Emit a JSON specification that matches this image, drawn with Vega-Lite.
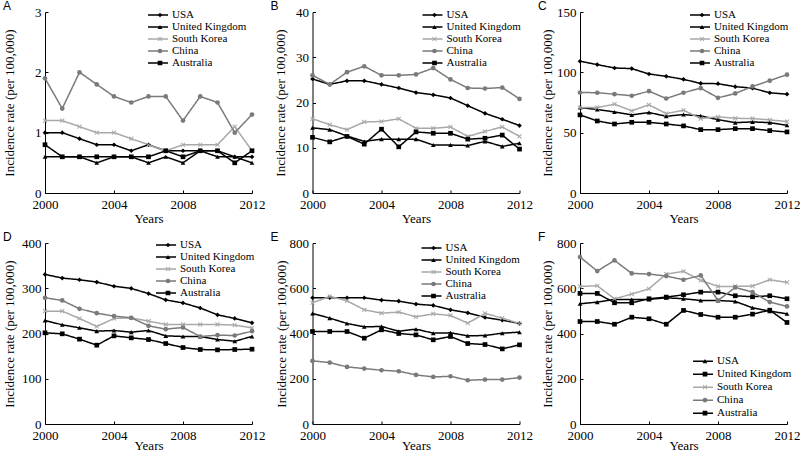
{
"$schema": "https://vega.github.io/schema/vega-lite/v6.json",
"padding": {"left": 3, "top": 0, "right": 0, "bottom": 0},
"datasets": {
"A": [
{"year":2000,"country":"USA","rate":1.0},{"year":2001,"country":"USA","rate":1.0},{"year":2002,"country":"USA","rate":0.9},{"year":2003,"country":"USA","rate":0.8},{"year":2004,"country":"USA","rate":0.8},{"year":2005,"country":"USA","rate":0.7},{"year":2006,"country":"USA","rate":0.8},{"year":2007,"country":"USA","rate":0.7},{"year":2008,"country":"USA","rate":0.7},{"year":2009,"country":"USA","rate":0.7},{"year":2010,"country":"USA","rate":0.7},{"year":2011,"country":"USA","rate":0.6},{"year":2012,"country":"USA","rate":0.6},
{"year":2000,"country":"United Kingdom","rate":0.6},{"year":2001,"country":"United Kingdom","rate":0.6},{"year":2002,"country":"United Kingdom","rate":0.6},{"year":2003,"country":"United Kingdom","rate":0.5},{"year":2004,"country":"United Kingdom","rate":0.6},{"year":2005,"country":"United Kingdom","rate":0.6},{"year":2006,"country":"United Kingdom","rate":0.5},{"year":2007,"country":"United Kingdom","rate":0.6},{"year":2008,"country":"United Kingdom","rate":0.5},{"year":2009,"country":"United Kingdom","rate":0.7},{"year":2010,"country":"United Kingdom","rate":0.6},{"year":2011,"country":"United Kingdom","rate":0.6},{"year":2012,"country":"United Kingdom","rate":0.5},
{"year":2000,"country":"South Korea","rate":1.2},{"year":2001,"country":"South Korea","rate":1.2},{"year":2002,"country":"South Korea","rate":1.1},{"year":2003,"country":"South Korea","rate":1.0},{"year":2004,"country":"South Korea","rate":1.0},{"year":2005,"country":"South Korea","rate":0.9},{"year":2006,"country":"South Korea","rate":0.8},{"year":2007,"country":"South Korea","rate":0.7},{"year":2008,"country":"South Korea","rate":0.8},{"year":2009,"country":"South Korea","rate":0.8},{"year":2010,"country":"South Korea","rate":0.8},{"year":2011,"country":"South Korea","rate":1.1},{"year":2012,"country":"South Korea","rate":0.7},
{"year":2000,"country":"China","rate":1.9},{"year":2001,"country":"China","rate":1.4},{"year":2002,"country":"China","rate":2.0},{"year":2003,"country":"China","rate":1.8},{"year":2004,"country":"China","rate":1.6},{"year":2005,"country":"China","rate":1.5},{"year":2006,"country":"China","rate":1.6},{"year":2007,"country":"China","rate":1.6},{"year":2008,"country":"China","rate":1.2},{"year":2009,"country":"China","rate":1.6},{"year":2010,"country":"China","rate":1.5},{"year":2011,"country":"China","rate":1.0},{"year":2012,"country":"China","rate":1.3},
{"year":2000,"country":"Australia","rate":0.8},{"year":2001,"country":"Australia","rate":0.6},{"year":2002,"country":"Australia","rate":0.6},{"year":2003,"country":"Australia","rate":0.6},{"year":2004,"country":"Australia","rate":0.6},{"year":2005,"country":"Australia","rate":0.6},{"year":2006,"country":"Australia","rate":0.6},{"year":2007,"country":"Australia","rate":0.7},{"year":2008,"country":"Australia","rate":0.6},{"year":2009,"country":"Australia","rate":0.7},{"year":2010,"country":"Australia","rate":0.7},{"year":2011,"country":"Australia","rate":0.5},{"year":2012,"country":"Australia","rate":0.7}
],
"B": [
{"year":2000,"country":"USA","rate":25.2},{"year":2001,"country":"USA","rate":24.0},{"year":2002,"country":"USA","rate":24.8},{"year":2003,"country":"USA","rate":24.8},{"year":2004,"country":"USA","rate":24.0},{"year":2005,"country":"USA","rate":23.2},{"year":2006,"country":"USA","rate":22.2},{"year":2007,"country":"USA","rate":21.7},{"year":2008,"country":"USA","rate":21.0},{"year":2009,"country":"USA","rate":19.3},{"year":2010,"country":"USA","rate":17.6},{"year":2011,"country":"USA","rate":16.3},{"year":2012,"country":"USA","rate":14.9},
{"year":2000,"country":"United Kingdom","rate":14.4},{"year":2001,"country":"United Kingdom","rate":14.0},{"year":2002,"country":"United Kingdom","rate":12.6},{"year":2003,"country":"United Kingdom","rate":11.4},{"year":2004,"country":"United Kingdom","rate":11.9},{"year":2005,"country":"United Kingdom","rate":11.9},{"year":2006,"country":"United Kingdom","rate":11.9},{"year":2007,"country":"United Kingdom","rate":10.6},{"year":2008,"country":"United Kingdom","rate":10.6},{"year":2009,"country":"United Kingdom","rate":10.5},{"year":2010,"country":"United Kingdom","rate":11.4},{"year":2011,"country":"United Kingdom","rate":10.3},{"year":2012,"country":"United Kingdom","rate":11.0},
{"year":2000,"country":"South Korea","rate":16.4},{"year":2001,"country":"South Korea","rate":15.1},{"year":2002,"country":"South Korea","rate":14.0},{"year":2003,"country":"South Korea","rate":15.7},{"year":2004,"country":"South Korea","rate":15.8},{"year":2005,"country":"South Korea","rate":16.4},{"year":2006,"country":"South Korea","rate":14.3},{"year":2007,"country":"South Korea","rate":14.3},{"year":2008,"country":"South Korea","rate":14.6},{"year":2009,"country":"South Korea","rate":12.5},{"year":2010,"country":"South Korea","rate":13.6},{"year":2011,"country":"South Korea","rate":14.6},{"year":2012,"country":"South Korea","rate":12.5},
{"year":2000,"country":"China","rate":26.0},{"year":2001,"country":"China","rate":24.0},{"year":2002,"country":"China","rate":26.7},{"year":2003,"country":"China","rate":28.0},{"year":2004,"country":"China","rate":26.0},{"year":2005,"country":"China","rate":26.0},{"year":2006,"country":"China","rate":26.2},{"year":2007,"country":"China","rate":27.6},{"year":2008,"country":"China","rate":25.1},{"year":2009,"country":"China","rate":23.2},{"year":2010,"country":"China","rate":23.1},{"year":2011,"country":"China","rate":23.3},{"year":2012,"country":"China","rate":20.8},
{"year":2000,"country":"Australia","rate":12.3},{"year":2001,"country":"Australia","rate":11.3},{"year":2002,"country":"Australia","rate":12.5},{"year":2003,"country":"Australia","rate":10.8},{"year":2004,"country":"Australia","rate":14.1},{"year":2005,"country":"Australia","rate":10.2},{"year":2006,"country":"Australia","rate":13.5},{"year":2007,"country":"Australia","rate":13.2},{"year":2008,"country":"Australia","rate":13.2},{"year":2009,"country":"Australia","rate":11.9},{"year":2010,"country":"Australia","rate":12.1},{"year":2011,"country":"Australia","rate":12.8},{"year":2012,"country":"Australia","rate":9.7}
],
"C": [
{"year":2000,"country":"USA","rate":109.2},{"year":2001,"country":"USA","rate":106.4},{"year":2002,"country":"USA","rate":103.6},{"year":2003,"country":"USA","rate":103.1},{"year":2004,"country":"USA","rate":98.6},{"year":2005,"country":"USA","rate":96.7},{"year":2006,"country":"USA","rate":94.2},{"year":2007,"country":"USA","rate":90.8},{"year":2008,"country":"USA","rate":90.6},{"year":2009,"country":"USA","rate":88.1},{"year":2010,"country":"USA","rate":86.9},{"year":2011,"country":"USA","rate":83.1},{"year":2012,"country":"USA","rate":81.9},
{"year":2000,"country":"United Kingdom","rate":70.8},{"year":2001,"country":"United Kingdom","rate":69.2},{"year":2002,"country":"United Kingdom","rate":67.2},{"year":2003,"country":"United Kingdom","rate":64.7},{"year":2004,"country":"United Kingdom","rate":66.7},{"year":2005,"country":"United Kingdom","rate":63.6},{"year":2006,"country":"United Kingdom","rate":65.0},{"year":2007,"country":"United Kingdom","rate":63.9},{"year":2008,"country":"United Kingdom","rate":60.8},{"year":2009,"country":"United Kingdom","rate":58.3},{"year":2010,"country":"United Kingdom","rate":58.9},{"year":2011,"country":"United Kingdom","rate":58.3},{"year":2012,"country":"United Kingdom","rate":56.1},
{"year":2000,"country":"South Korea","rate":70.8},{"year":2001,"country":"South Korea","rate":70.8},{"year":2002,"country":"South Korea","rate":73.6},{"year":2003,"country":"South Korea","rate":68.1},{"year":2004,"country":"South Korea","rate":73.1},{"year":2005,"country":"South Korea","rate":65.8},{"year":2006,"country":"South Korea","rate":68.6},{"year":2007,"country":"South Korea","rate":61.7},{"year":2008,"country":"South Korea","rate":63.1},{"year":2009,"country":"South Korea","rate":61.9},{"year":2010,"country":"South Korea","rate":61.7},{"year":2011,"country":"South Korea","rate":60.6},{"year":2012,"country":"South Korea","rate":59.2},
{"year":2000,"country":"China","rate":83.3},{"year":2001,"country":"China","rate":83.1},{"year":2002,"country":"China","rate":81.9},{"year":2003,"country":"China","rate":80.6},{"year":2004,"country":"China","rate":84.4},{"year":2005,"country":"China","rate":78.3},{"year":2006,"country":"China","rate":83.1},{"year":2007,"country":"China","rate":86.9},{"year":2008,"country":"China","rate":78.9},{"year":2009,"country":"China","rate":82.5},{"year":2010,"country":"China","rate":88.3},{"year":2011,"country":"China","rate":93.1},{"year":2012,"country":"China","rate":98.1},
{"year":2000,"country":"Australia","rate":64.7},{"year":2001,"country":"Australia","rate":59.7},{"year":2002,"country":"Australia","rate":57.2},{"year":2003,"country":"Australia","rate":58.6},{"year":2004,"country":"Australia","rate":58.6},{"year":2005,"country":"Australia","rate":57.2},{"year":2006,"country":"Australia","rate":55.6},{"year":2007,"country":"Australia","rate":52.5},{"year":2008,"country":"Australia","rate":52.5},{"year":2009,"country":"Australia","rate":53.3},{"year":2010,"country":"Australia","rate":53.3},{"year":2011,"country":"Australia","rate":51.7},{"year":2012,"country":"Australia","rate":50.6}
],
"D": [
{"year":2000,"country":"USA","rate":330.6},{"year":2001,"country":"USA","rate":322.5},{"year":2002,"country":"USA","rate":318.8},{"year":2003,"country":"USA","rate":313.7},{"year":2004,"country":"USA","rate":304.4},{"year":2005,"country":"USA","rate":299.6},{"year":2006,"country":"USA","rate":288.2},{"year":2007,"country":"USA","rate":274.2},{"year":2008,"country":"USA","rate":267.5},{"year":2009,"country":"USA","rate":256.4},{"year":2010,"country":"USA","rate":241.3},{"year":2011,"country":"USA","rate":233.3},{"year":2012,"country":"USA","rate":223.6},
{"year":2000,"country":"United Kingdom","rate":228.8},{"year":2001,"country":"United Kingdom","rate":219.2},{"year":2002,"country":"United Kingdom","rate":212.5},{"year":2003,"country":"United Kingdom","rate":205.2},{"year":2004,"country":"United Kingdom","rate":206.6},{"year":2005,"country":"United Kingdom","rate":203.0},{"year":2006,"country":"United Kingdom","rate":206.6},{"year":2007,"country":"United Kingdom","rate":194.8},{"year":2008,"country":"United Kingdom","rate":193.4},{"year":2009,"country":"United Kingdom","rate":193.4},{"year":2010,"country":"United Kingdom","rate":186.7},{"year":2011,"country":"United Kingdom","rate":183.0},{"year":2012,"country":"United Kingdom","rate":193.4},
{"year":2000,"country":"South Korea","rate":249.4},{"year":2001,"country":"South Korea","rate":249.4},{"year":2002,"country":"South Korea","rate":233.2},{"year":2003,"country":"South Korea","rate":215.5},{"year":2004,"country":"South Korea","rate":233.2},{"year":2005,"country":"South Korea","rate":234.7},{"year":2006,"country":"South Korea","rate":227.3},{"year":2007,"country":"South Korea","rate":220.0},{"year":2008,"country":"South Korea","rate":220.0},{"year":2009,"country":"South Korea","rate":220.0},{"year":2010,"country":"South Korea","rate":220.0},{"year":2011,"country":"South Korea","rate":218.5},{"year":2012,"country":"South Korea","rate":212.5},
{"year":2000,"country":"China","rate":279.0},{"year":2001,"country":"China","rate":273.0},{"year":2002,"country":"China","rate":254.6},{"year":2003,"country":"China","rate":245.0},{"year":2004,"country":"China","rate":238.4},{"year":2005,"country":"China","rate":234.7},{"year":2006,"country":"China","rate":217.0},{"year":2007,"country":"China","rate":209.6},{"year":2008,"country":"China","rate":213.3},{"year":2009,"country":"China","rate":193.4},{"year":2010,"country":"China","rate":196.3},{"year":2011,"country":"China","rate":195.6},{"year":2012,"country":"China","rate":205.2},
{"year":2000,"country":"Australia","rate":201.5},{"year":2001,"country":"Australia","rate":199.3},{"year":2002,"country":"Australia","rate":187.5},{"year":2003,"country":"Australia","rate":174.2},{"year":2004,"country":"Australia","rate":194.8},{"year":2005,"country":"Australia","rate":190.4},{"year":2006,"country":"Australia","rate":186.7},{"year":2007,"country":"Australia","rate":177.9},{"year":2008,"country":"Australia","rate":169.0},{"year":2009,"country":"Australia","rate":164.6},{"year":2010,"country":"Australia","rate":163.8},{"year":2011,"country":"Australia","rate":164.6},{"year":2012,"country":"Australia","rate":165.3}
],
"E": [
{"year":2000,"country":"USA","rate":558},{"year":2001,"country":"USA","rate":558},{"year":2002,"country":"USA","rate":558},{"year":2003,"country":"USA","rate":558},{"year":2004,"country":"USA","rate":547.6},{"year":2005,"country":"USA","rate":543},{"year":2006,"country":"USA","rate":530},{"year":2007,"country":"USA","rate":524},{"year":2008,"country":"USA","rate":504.8},{"year":2009,"country":"USA","rate":491.5},{"year":2010,"country":"USA","rate":470.8},{"year":2011,"country":"USA","rate":459},{"year":2012,"country":"USA","rate":444.3},
{"year":2000,"country":"United Kingdom","rate":488.6},{"year":2001,"country":"United Kingdom","rate":468},{"year":2002,"country":"United Kingdom","rate":444.3},{"year":2003,"country":"United Kingdom","rate":429.5},{"year":2004,"country":"United Kingdom","rate":431},{"year":2005,"country":"United Kingdom","rate":410.3},{"year":2006,"country":"United Kingdom","rate":419.2},{"year":2007,"country":"United Kingdom","rate":401.5},{"year":2008,"country":"United Kingdom","rate":403},{"year":2009,"country":"United Kingdom","rate":389.7},{"year":2010,"country":"United Kingdom","rate":391.1},{"year":2011,"country":"United Kingdom","rate":401.5},{"year":2012,"country":"United Kingdom","rate":405.9},
{"year":2000,"country":"South Korea","rate":535.8},{"year":2001,"country":"South Korea","rate":563.8},{"year":2002,"country":"South Korea","rate":544.6},{"year":2003,"country":"South Korea","rate":504.8},{"year":2004,"country":"South Korea","rate":490},{"year":2005,"country":"South Korea","rate":494.5},{"year":2006,"country":"South Korea","rate":473.8},{"year":2007,"country":"South Korea","rate":487},{"year":2008,"country":"South Korea","rate":479.7},{"year":2009,"country":"South Korea","rate":445.8},{"year":2010,"country":"South Korea","rate":488.6},{"year":2011,"country":"South Korea","rate":468},{"year":2012,"country":"South Korea","rate":444.3},
{"year":2000,"country":"China","rate":279},{"year":2001,"country":"China","rate":271.6},{"year":2002,"country":"China","rate":252.4},{"year":2003,"country":"China","rate":245},{"year":2004,"country":"China","rate":237.6},{"year":2005,"country":"China","rate":233.2},{"year":2006,"country":"China","rate":217},{"year":2007,"country":"China","rate":208},{"year":2008,"country":"China","rate":211},{"year":2009,"country":"China","rate":193.4},{"year":2010,"country":"China","rate":196.3},{"year":2011,"country":"China","rate":196.3},{"year":2012,"country":"China","rate":205.2},
{"year":2000,"country":"Australia","rate":408.9},{"year":2001,"country":"Australia","rate":408.9},{"year":2002,"country":"Australia","rate":408.9},{"year":2003,"country":"Australia","rate":379.3},{"year":2004,"country":"Australia","rate":416.2},{"year":2005,"country":"Australia","rate":400},{"year":2006,"country":"Australia","rate":394},{"year":2007,"country":"Australia","rate":372},{"year":2008,"country":"Australia","rate":386.7},{"year":2009,"country":"Australia","rate":355.7},{"year":2010,"country":"Australia","rate":351.3},{"year":2011,"country":"Australia","rate":332},{"year":2012,"country":"Australia","rate":349.8}
],
"F": [
{"year":2000,"country":"USA","rate":531.4},{"year":2001,"country":"USA","rate":538.7},{"year":2002,"country":"USA","rate":550.6},{"year":2003,"country":"USA","rate":550.6},{"year":2004,"country":"USA","rate":550.6},{"year":2005,"country":"USA","rate":558},{"year":2006,"country":"USA","rate":553.5},{"year":2007,"country":"USA","rate":546},{"year":2008,"country":"USA","rate":546},{"year":2009,"country":"USA","rate":541.7},{"year":2010,"country":"USA","rate":513.6},{"year":2011,"country":"USA","rate":499},{"year":2012,"country":"USA","rate":487},
{"year":2000,"country":"United Kingdom","rate":577.1},{"year":2001,"country":"United Kingdom","rate":577.1},{"year":2002,"country":"United Kingdom","rate":535.8},{"year":2003,"country":"United Kingdom","rate":535.8},{"year":2004,"country":"United Kingdom","rate":553.5},{"year":2005,"country":"United Kingdom","rate":560.9},{"year":2006,"country":"United Kingdom","rate":571.2},{"year":2007,"country":"United Kingdom","rate":583},{"year":2008,"country":"United Kingdom","rate":583},{"year":2009,"country":"United Kingdom","rate":566.8},{"year":2010,"country":"United Kingdom","rate":562.4},{"year":2011,"country":"United Kingdom","rate":566.8},{"year":2012,"country":"United Kingdom","rate":553.5},
{"year":2000,"country":"South Korea","rate":608},{"year":2001,"country":"South Korea","rate":611},{"year":2002,"country":"South Korea","rate":553.5},{"year":2003,"country":"South Korea","rate":574.2},{"year":2004,"country":"South Korea","rate":597.8},{"year":2005,"country":"South Korea","rate":662.7},{"year":2006,"country":"South Korea","rate":674.5},{"year":2007,"country":"South Korea","rate":634.7},{"year":2008,"country":"South Korea","rate":608},{"year":2009,"country":"South Korea","rate":608},{"year":2010,"country":"South Korea","rate":609.6},{"year":2011,"country":"South Korea","rate":637.6},{"year":2012,"country":"South Korea","rate":625.8},
{"year":2000,"country":"China","rate":738},{"year":2001,"country":"China","rate":676},{"year":2002,"country":"China","rate":723},{"year":2003,"country":"China","rate":665.7},{"year":2004,"country":"China","rate":662.7},{"year":2005,"country":"China","rate":653.9},{"year":2006,"country":"China","rate":637.6},{"year":2007,"country":"China","rate":656.8},{"year":2008,"country":"China","rate":546},{"year":2009,"country":"China","rate":603.7},{"year":2010,"country":"China","rate":583},{"year":2011,"country":"China","rate":538.7},{"year":2012,"country":"China","rate":519.6},
{"year":2000,"country":"Australia","rate":453},{"year":2001,"country":"Australia","rate":453},{"year":2002,"country":"Australia","rate":441},{"year":2003,"country":"Australia","rate":472},{"year":2004,"country":"Australia","rate":465},{"year":2005,"country":"Australia","rate":441},{"year":2006,"country":"Australia","rate":502},{"year":2007,"country":"Australia","rate":484},{"year":2008,"country":"Australia","rate":472},{"year":2009,"country":"Australia","rate":472},{"year":2010,"country":"Australia","rate":485.6},{"year":2011,"country":"Australia","rate":503},{"year":2012,"country":"Australia","rate":448.7}
]
},
"columns": 3,
"spacing": {"row": 50, "column": 60.5},
"bounds": "flush",
"resolve": {
  "scale": {"color": "independent", "shape": "independent", "strokeDash": "independent"},
  "legend": {"color": "independent", "shape": "independent", "strokeDash": "independent"}
},
"concat": [
{
 "title": "A", "width": 207, "height": 181, "data": {"name": "A"},
 "encoding": {
  "x": {"field": "year", "type": "quantitative", "scale": {"domain": [2000, 2012], "nice": false, "zero": false}, "axis": {"values": [2000, 2004, 2008, 2012], "format": "d", "title": "Years"}},
  "y": {"field": "rate", "type": "quantitative", "scale": {"domain": [0, 3], "nice": false}, "axis": {"values": [0, 1, 2, 3], "title": "Incidence rate (per 100,000)", "titleX": -36}}
 },
 "layer": [
  {"mark": {"type": "line", "strokeWidth": 1.5}, "encoding": {
    "color": {"field": "country", "type": "nominal", "scale": {"domain": ["USA", "United Kingdom", "South Korea", "China", "Australia"], "range": ["#000000", "#000000", "#a8a8a8", "#7a7a7a", "#000000"]}, "legend": {"title": null, "legendX": 102, "legendY": -2.5, "clipHeight": 11, "symbolSize": 22, "symbolOffset": 7.5, "labelOpacity": 0, "symbolStrokeWidth": 0}},
    "strokeDash": {"field": "country", "type": "nominal", "sort": ["USA", "United Kingdom", "South Korea", "China", "Australia"], "scale": {"range": [[1, 0], [1, 0], [1, 0], [1, 0], [1, 0]]}, "legend": {"title": null, "legendX": 102, "legendY": -2.5, "clipHeight": 11, "symbolType": "stroke", "symbolSize": 400, "symbolStrokeWidth": 1.5, "encode": {"symbols": {"update": {"stroke": {"signal": "datum.value === 'South Korea' ? '#a8a8a8' : datum.value === 'China' ? '#7a7a7a' : '#000000'"}}}}}}
  }},
  {"mark": {"type": "point", "filled": true, "size": 22, "opacity": 1}, "encoding": {
    "color": {"field": "country", "type": "nominal"},
    "shape": {"field": "country", "type": "nominal", "scale": {"domain": ["USA", "United Kingdom", "South Korea", "China", "Australia"], "range": ["diamond", "triangle-up", "M-1,-0.7L-0.7,-1L0,-0.3L0.7,-1L1,-0.7L0.3,0L1,0.7L0.7,1L0,0.3L-0.7,1L-1,0.7L-0.3,0Z", "circle", "square"]}, "legend": {"title": null, "legendX": 102, "legendY": -2.5, "clipHeight": 11, "symbolSize": 22, "symbolOffset": 7.5, "labelOpacity": 0, "symbolStrokeWidth": 0}}
  }}
 ]
},
{
 "title": "B", "width": 207, "height": 181, "data": {"name": "B"},
 "encoding": {
  "x": {"field": "year", "type": "quantitative", "scale": {"domain": [2000, 2012], "nice": false, "zero": false}, "axis": {"values": [2000, 2004, 2008, 2012], "format": "d", "title": "Years"}},
  "y": {"field": "rate", "type": "quantitative", "scale": {"domain": [0, 40], "nice": false}, "axis": {"values": [0, 10, 20, 30, 40], "title": "Incidence rate (per 100,000)", "titleX": -32}}
 },
 "layer": [
  {"mark": {"type": "line", "strokeWidth": 1.5}, "encoding": {
    "color": {"field": "country", "type": "nominal", "scale": {"domain": ["USA", "United Kingdom", "South Korea", "China", "Australia"], "range": ["#000000", "#000000", "#a8a8a8", "#7a7a7a", "#000000"]}, "legend": {"title": null, "legendX": 109, "legendY": -2.5, "clipHeight": 11, "symbolSize": 22, "symbolOffset": 7.5, "labelOpacity": 0, "symbolStrokeWidth": 0}},
    "strokeDash": {"field": "country", "type": "nominal", "sort": ["USA", "United Kingdom", "South Korea", "China", "Australia"], "scale": {"range": [[1, 0], [1, 0], [1, 0], [1, 0], [1, 0]]}, "legend": {"title": null, "legendX": 109, "legendY": -2.5, "clipHeight": 11, "symbolType": "stroke", "symbolSize": 400, "symbolStrokeWidth": 1.5, "encode": {"symbols": {"update": {"stroke": {"signal": "datum.value === 'South Korea' ? '#a8a8a8' : datum.value === 'China' ? '#7a7a7a' : '#000000'"}}}}}}
  }},
  {"mark": {"type": "point", "filled": true, "size": 22, "opacity": 1}, "encoding": {
    "color": {"field": "country", "type": "nominal"},
    "shape": {"field": "country", "type": "nominal", "scale": {"domain": ["USA", "United Kingdom", "South Korea", "China", "Australia"], "range": ["diamond", "triangle-up", "M-1,-0.7L-0.7,-1L0,-0.3L0.7,-1L1,-0.7L0.3,0L1,0.7L0.7,1L0,0.3L-0.7,1L-1,0.7L-0.3,0Z", "circle", "square"]}, "legend": {"title": null, "legendX": 109, "legendY": -2.5, "clipHeight": 11, "symbolSize": 22, "symbolOffset": 7.5, "labelOpacity": 0, "symbolStrokeWidth": 0}}
  }}
 ]
},
{
 "title": "C", "width": 207, "height": 181, "data": {"name": "C"},
 "encoding": {
  "x": {"field": "year", "type": "quantitative", "scale": {"domain": [2000, 2012], "nice": false, "zero": false}, "axis": {"values": [2000, 2004, 2008, 2012], "format": "d", "title": "Years"}},
  "y": {"field": "rate", "type": "quantitative", "scale": {"domain": [0, 150], "nice": false}, "axis": {"values": [0, 50, 100, 150], "title": "Incidence rate (per 100,000)", "titleX": -33}}
 },
 "layer": [
  {"mark": {"type": "line", "strokeWidth": 1.5}, "encoding": {
    "color": {"field": "country", "type": "nominal", "scale": {"domain": ["USA", "United Kingdom", "South Korea", "China", "Australia"], "range": ["#000000", "#000000", "#a8a8a8", "#7a7a7a", "#000000"]}, "legend": {"title": null, "legendX": 109, "legendY": -2.5, "clipHeight": 11, "symbolSize": 22, "symbolOffset": 7.5, "labelOpacity": 0, "symbolStrokeWidth": 0}},
    "strokeDash": {"field": "country", "type": "nominal", "sort": ["USA", "United Kingdom", "South Korea", "China", "Australia"], "scale": {"range": [[1, 0], [1, 0], [1, 0], [1, 0], [1, 0]]}, "legend": {"title": null, "legendX": 109, "legendY": -2.5, "clipHeight": 11, "symbolType": "stroke", "symbolSize": 400, "symbolStrokeWidth": 1.5, "encode": {"symbols": {"update": {"stroke": {"signal": "datum.value === 'South Korea' ? '#a8a8a8' : datum.value === 'China' ? '#7a7a7a' : '#000000'"}}}}}}
  }},
  {"mark": {"type": "point", "filled": true, "size": 22, "opacity": 1}, "encoding": {
    "color": {"field": "country", "type": "nominal"},
    "shape": {"field": "country", "type": "nominal", "scale": {"domain": ["USA", "United Kingdom", "South Korea", "China", "Australia"], "range": ["diamond", "triangle-up", "M-1,-0.7L-0.7,-1L0,-0.3L0.7,-1L1,-0.7L0.3,0L1,0.7L0.7,1L0,0.3L-0.7,1L-1,0.7L-0.3,0Z", "circle", "square"]}, "legend": {"title": null, "legendX": 109, "legendY": -2.5, "clipHeight": 11, "symbolSize": 22, "symbolOffset": 7.5, "labelOpacity": 0, "symbolStrokeWidth": 0}}
  }}
 ]
},
{
 "title": "D", "width": 207, "height": 181, "data": {"name": "D"},
 "encoding": {
  "x": {"field": "year", "type": "quantitative", "scale": {"domain": [2000, 2012], "nice": false, "zero": false}, "axis": {"values": [2000, 2004, 2008, 2012], "format": "d", "title": "Years", "titleY": 21}},
  "y": {"field": "rate", "type": "quantitative", "scale": {"domain": [0, 400], "nice": false}, "axis": {"values": [0, 100, 200, 300, 400], "title": "Incidence rate (per 100,000)", "titleX": -36}}
 },
 "layer": [
  {"mark": {"type": "line", "strokeWidth": 1.5}, "encoding": {
    "color": {"field": "country", "type": "nominal", "scale": {"domain": ["USA", "United Kingdom", "South Korea", "China", "Australia"], "range": ["#000000", "#000000", "#a8a8a8", "#7a7a7a", "#000000"]}, "legend": {"title": null, "legendX": 110, "legendY": -3.5, "clipHeight": 11, "symbolSize": 22, "symbolOffset": 7.5, "labelOpacity": 0, "symbolStrokeWidth": 0}},
    "strokeDash": {"field": "country", "type": "nominal", "sort": ["USA", "United Kingdom", "South Korea", "China", "Australia"], "scale": {"range": [[1, 0], [1, 0], [1, 0], [1, 0], [1, 0]]}, "legend": {"title": null, "legendX": 110, "legendY": -3.5, "clipHeight": 11, "symbolType": "stroke", "symbolSize": 400, "symbolStrokeWidth": 1.5, "encode": {"symbols": {"update": {"stroke": {"signal": "datum.value === 'South Korea' ? '#a8a8a8' : datum.value === 'China' ? '#7a7a7a' : '#000000'"}}}}}}
  }},
  {"mark": {"type": "point", "filled": true, "size": 22, "opacity": 1}, "encoding": {
    "color": {"field": "country", "type": "nominal"},
    "shape": {"field": "country", "type": "nominal", "scale": {"domain": ["USA", "United Kingdom", "South Korea", "China", "Australia"], "range": ["diamond", "triangle-up", "M-1,-0.7L-0.7,-1L0,-0.3L0.7,-1L1,-0.7L0.3,0L1,0.7L0.7,1L0,0.3L-0.7,1L-1,0.7L-0.3,0Z", "circle", "square"]}, "legend": {"title": null, "legendX": 110, "legendY": -3.5, "clipHeight": 11, "symbolSize": 22, "symbolOffset": 7.5, "labelOpacity": 0, "symbolStrokeWidth": 0}}
  }}
 ]
},
{
 "title": "E", "width": 207, "height": 181, "data": {"name": "E"},
 "encoding": {
  "x": {"field": "year", "type": "quantitative", "scale": {"domain": [2000, 2012], "nice": false, "zero": false}, "axis": {"values": [2000, 2004, 2008, 2012], "format": "d", "title": "Years", "titleY": 21}},
  "y": {"field": "rate", "type": "quantitative", "scale": {"domain": [0, 800], "nice": false}, "axis": {"values": [0, 200, 400, 600, 800], "title": "Incidence rate (per 100,000)", "titleX": -31}}
 },
 "layer": [
  {"mark": {"type": "line", "strokeWidth": 1.5}, "encoding": {
    "color": {"field": "country", "type": "nominal", "scale": {"domain": ["USA", "United Kingdom", "South Korea", "China", "Australia"], "range": ["#000000", "#000000", "#a8a8a8", "#7a7a7a", "#000000"]}, "legend": {"title": null, "legendX": 108, "legendY": -0.5, "clipHeight": 11, "symbolSize": 22, "symbolOffset": 7.5, "labelOpacity": 0, "symbolStrokeWidth": 0}},
    "strokeDash": {"field": "country", "type": "nominal", "sort": ["USA", "United Kingdom", "South Korea", "China", "Australia"], "scale": {"range": [[1, 0], [1, 0], [1, 0], [1, 0], [1, 0]]}, "legend": {"title": null, "legendX": 108, "legendY": -0.5, "clipHeight": 11, "symbolType": "stroke", "symbolSize": 400, "symbolStrokeWidth": 1.5, "encode": {"symbols": {"update": {"stroke": {"signal": "datum.value === 'South Korea' ? '#a8a8a8' : datum.value === 'China' ? '#7a7a7a' : '#000000'"}}}}}}
  }},
  {"mark": {"type": "point", "filled": true, "size": 22, "opacity": 1}, "encoding": {
    "color": {"field": "country", "type": "nominal"},
    "shape": {"field": "country", "type": "nominal", "scale": {"domain": ["USA", "United Kingdom", "South Korea", "China", "Australia"], "range": ["diamond", "triangle-up", "M-1,-0.7L-0.7,-1L0,-0.3L0.7,-1L1,-0.7L0.3,0L1,0.7L0.7,1L0,0.3L-0.7,1L-1,0.7L-0.3,0Z", "circle", "square"]}, "legend": {"title": null, "legendX": 108, "legendY": -0.5, "clipHeight": 11, "symbolSize": 22, "symbolOffset": 7.5, "labelOpacity": 0, "symbolStrokeWidth": 0}}
  }}
 ]
},
{
 "title": "F", "width": 207, "height": 181, "data": {"name": "F"},
 "encoding": {
  "x": {"field": "year", "type": "quantitative", "scale": {"domain": [2000, 2012], "nice": false, "zero": false}, "axis": {"values": [2000, 2004, 2008, 2012], "format": "d", "title": "Years", "titleY": 21}},
  "y": {"field": "rate", "type": "quantitative", "scale": {"domain": [0, 800], "nice": false}, "axis": {"values": [0, 200, 400, 600, 800], "title": "Incidence rate (per 100,000)", "titleX": -33}}
 },
 "layer": [
  {"mark": {"type": "line", "strokeWidth": 1.5}, "encoding": {
    "color": {"field": "country", "type": "nominal", "scale": {"domain": ["USA", "United Kingdom", "South Korea", "China", "Australia"], "range": ["#000000", "#000000", "#a8a8a8", "#7a7a7a", "#000000"]}, "legend": {"title": null, "legendX": 112, "legendY": 112.5, "clipHeight": 11.3, "symbolSize": 22, "symbolOffset": 7.5, "labelOpacity": 0, "symbolStrokeWidth": 0}},
    "strokeDash": {"field": "country", "type": "nominal", "sort": ["USA", "United Kingdom", "South Korea", "China", "Australia"], "scale": {"range": [[1, 0], [1, 0], [1, 0], [1, 0], [1, 0]]}, "legend": {"title": null, "legendX": 112, "legendY": 112.5, "clipHeight": 11.3, "symbolType": "stroke", "symbolSize": 400, "symbolStrokeWidth": 1.5, "encode": {"symbols": {"update": {"stroke": {"signal": "datum.value === 'South Korea' ? '#a8a8a8' : datum.value === 'China' ? '#7a7a7a' : '#000000'"}}}}}}
  }},
  {"mark": {"type": "point", "filled": true, "size": 22, "opacity": 1}, "encoding": {
    "color": {"field": "country", "type": "nominal"},
    "shape": {"field": "country", "type": "nominal", "scale": {"domain": ["USA", "United Kingdom", "South Korea", "China", "Australia"], "range": ["triangle-up", "square", "M-1,-0.7L-0.7,-1L0,-0.3L0.7,-1L1,-0.7L0.3,0L1,0.7L0.7,1L0,0.3L-0.7,1L-1,0.7L-0.3,0Z", "circle", "square"]}, "legend": {"title": null, "legendX": 112, "legendY": 112.5, "clipHeight": 11.3, "symbolSize": 22, "symbolOffset": 7.5, "labelOpacity": 0, "symbolStrokeWidth": 0}}
  }}
 ]
}
],
"config": {
 "view": {"stroke": null},
 "font": "Liberation Serif",
 "axis": {"grid": false, "domainColor": "#000000", "domainWidth": 1, "tickColor": "#000000", "tickSize": -3, "tickWidth": 1, "labelFont": "Liberation Serif", "labelFontSize": 13, "labelColor": "#000000", "labelFlush": false, "titleFont": "Liberation Serif", "titleFontSize": 13, "titleFontWeight": "normal", "titleColor": "#000000"},
 "axisX": {"labelPadding": 8, "titleY": 25, "titleBaseline": "middle"},
 "axisY": {"labelPadding": 7, "titleBaseline": "middle"},
 "legend": {"orient": "none", "labelFont": "Liberation Serif", "labelFontSize": 11, "labelColor": "#000000", "rowPadding": 0, "labelOffset": 3, "padding": 0},
 "title": {"font": "Liberation Sans", "fontSize": 12, "fontWeight": "normal", "color": "#000000", "anchor": "start", "frame": "group", "dx": -42, "dy": 10, "offset": 3}
}
}
